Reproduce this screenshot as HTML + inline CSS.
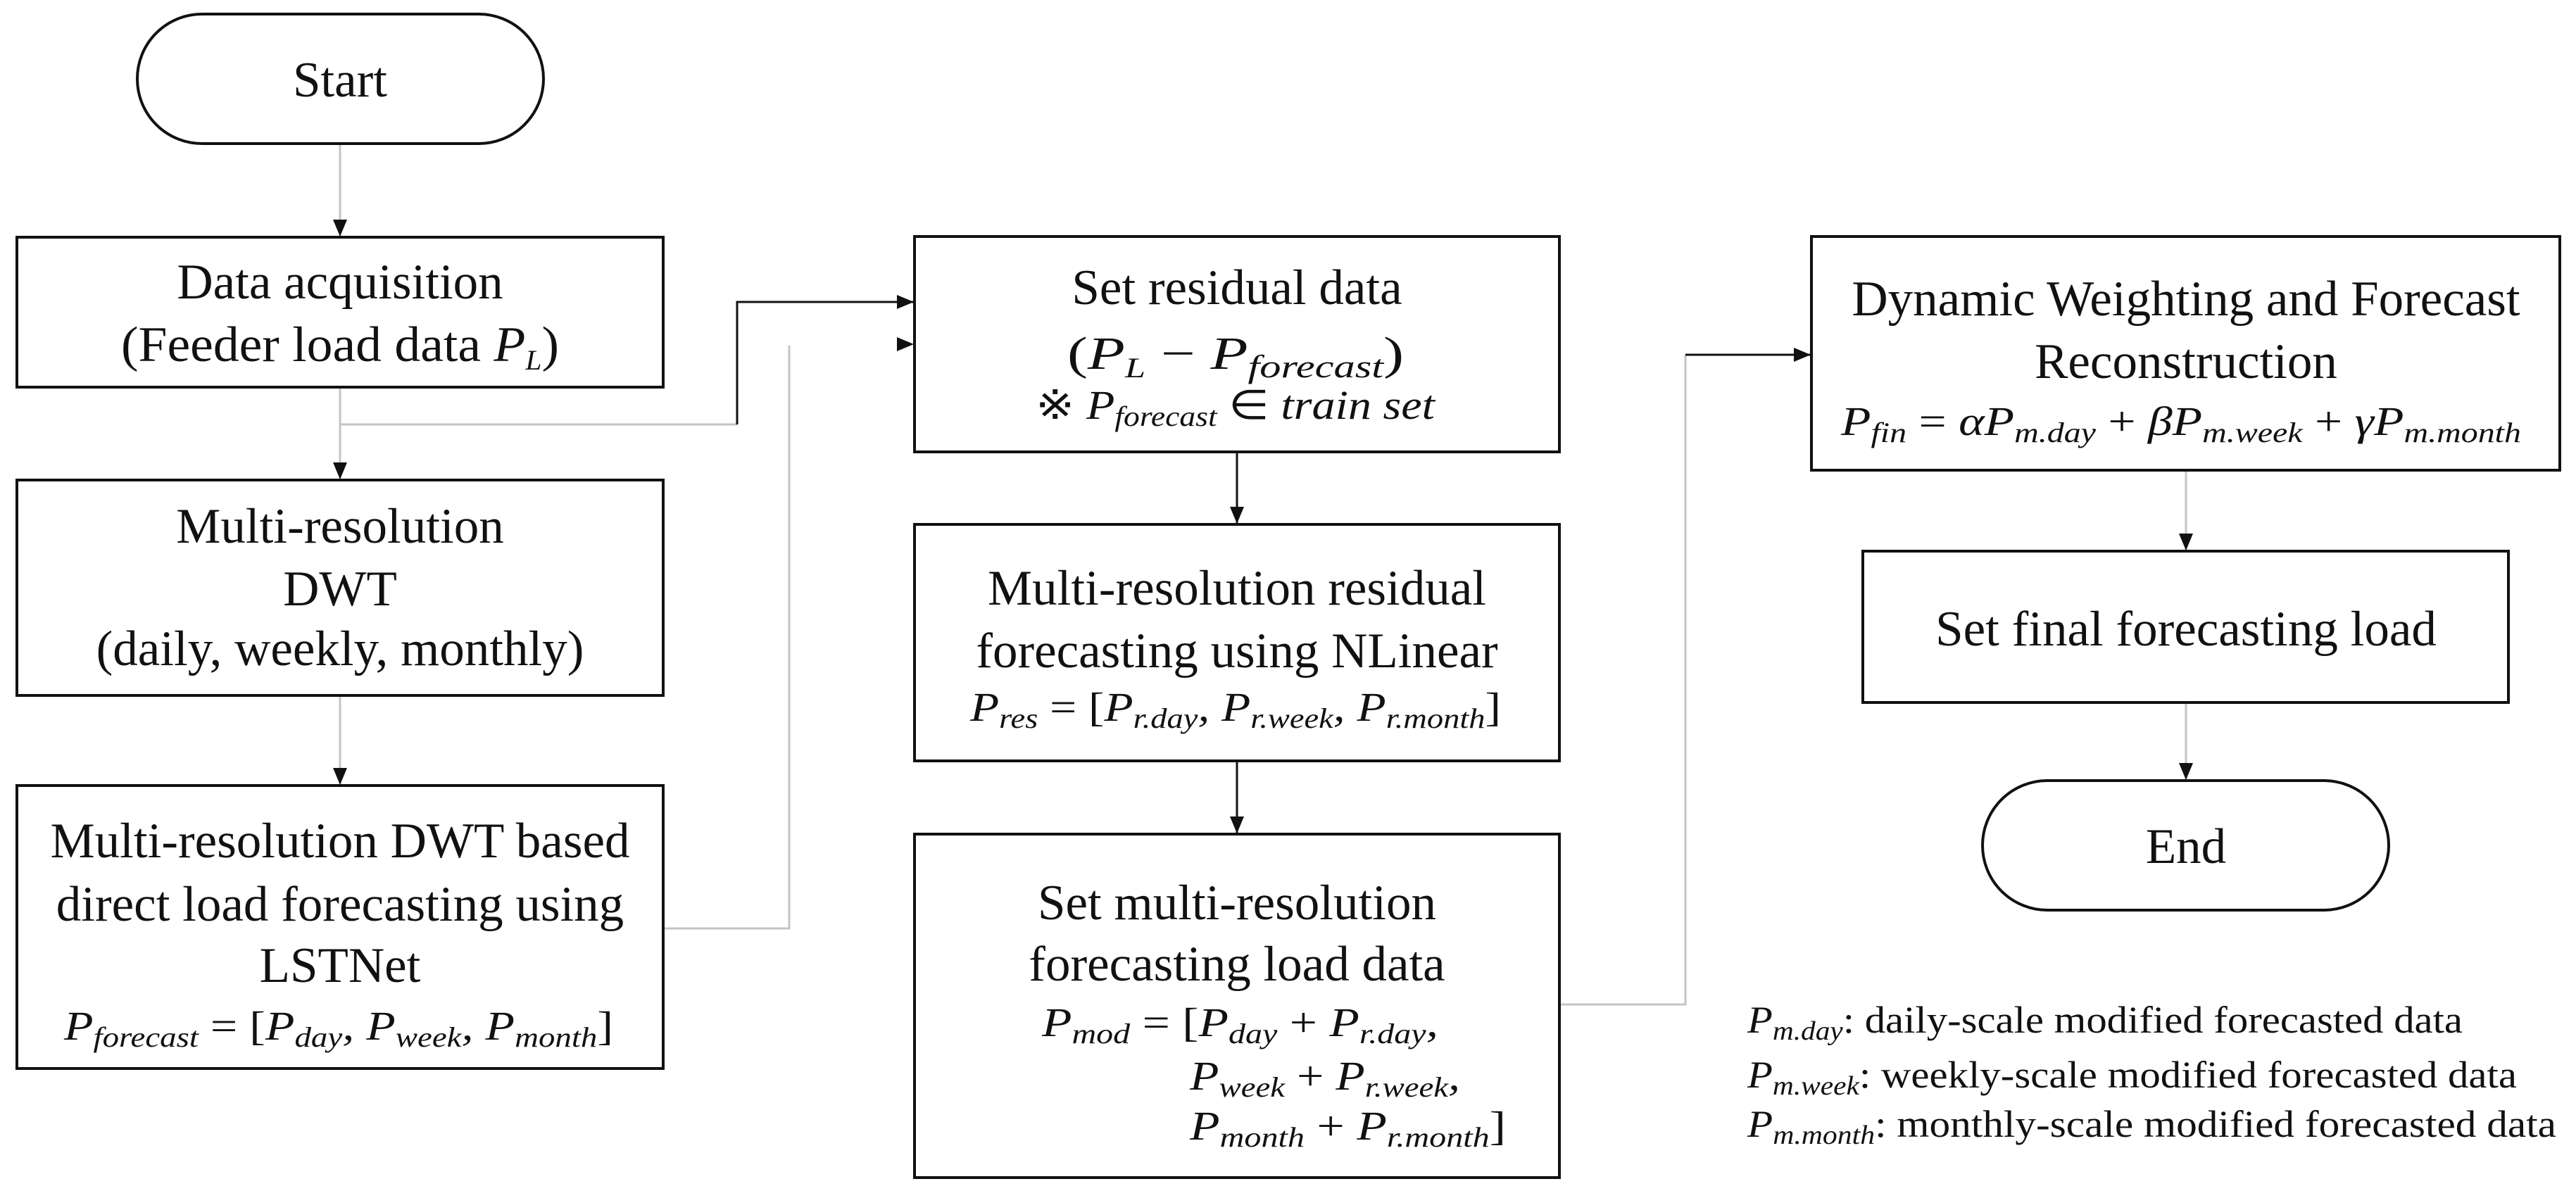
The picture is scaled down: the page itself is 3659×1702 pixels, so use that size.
<!DOCTYPE html>
<html><head><meta charset="utf-8"><style>
html,body{margin:0;padding:0;background:#fff}
svg{display:block}
text{font-family:"Liberation Serif",serif;fill:#111}
.t{font-size:71px;text-anchor:middle}
.m{font-size:58px;font-style:italic}
.s{font-size:40px}
.r{font-style:normal}
</style></head><body>
<svg width="3659" height="1702" viewBox="0 0 3659 1702" xmlns="http://www.w3.org/2000/svg">
<defs>
<marker id="a" markerWidth="24" markerHeight="20" refX="23" refY="10" orient="auto" markerUnits="userSpaceOnUse" viewBox="0 0 24 20"><path d="M0,0 L24,10 L0,20 z" fill="#111"/></marker>
</defs>
<g fill="none" stroke-width="3">
<g stroke="#c4c4c4">
<line x1="483" y1="204" x2="483" y2="335" marker-end="url(#a)"/>
<line x1="483" y1="550" x2="483" y2="680" marker-end="url(#a)"/>
<line x1="483" y1="603" x2="1047" y2="603"/>
<line x1="483" y1="988" x2="483" y2="1114" marker-end="url(#a)"/>
<polyline points="942,1319 1121,1319 1121,491"/>
<polyline points="2215,1427 2394,1427 2394,504"/>
<line x1="3105" y1="668" x2="3105" y2="781" marker-end="url(#a)"/>
<line x1="3105" y1="998" x2="3105" y2="1107" marker-end="url(#a)"/>
</g>
<g stroke="#111">
<polyline points="1047,603 1047,429 1297,429" marker-end="url(#a)"/>
<line x1="1270" y1="489" x2="1297" y2="489" marker-end="url(#a)" stroke="#fff" stroke-width="1"/>
<line x1="1757" y1="642" x2="1757" y2="743" marker-end="url(#a)"/>
<line x1="1757" y1="1081" x2="1757" y2="1183" marker-end="url(#a)"/>
<line x1="2394" y1="504" x2="2571" y2="504" marker-end="url(#a)"/>
</g>
<g stroke="#111" stroke-width="4">
<rect x="195" y="20" width="577" height="184" rx="92"/>
<rect x="24" y="337" width="918" height="213"/>
<rect x="24" y="682" width="918" height="306"/>
<rect x="24" y="1116" width="918" height="402"/>
<rect x="1299" y="336" width="916" height="306"/>
<rect x="1299" y="745" width="916" height="336"/>
<rect x="1299" y="1185" width="916" height="488"/>
<rect x="2573" y="336" width="1063" height="332"/>
<rect x="2646" y="783" width="917" height="215"/>
<rect x="2816" y="1109" width="577" height="184" rx="92"/>
</g>
</g>
<text class="t" x="483" y="137">Start</text>
<text class="t" x="483" y="424">Data acquisition</text>
<text class="t" x="172" y="513" textLength="622" lengthAdjust="spacingAndGlyphs" style="text-anchor:start">(Feeder load data <tspan font-style="italic">P</tspan><tspan class="s" font-style="italic" dy="12">L</tspan><tspan dy="-12">)</tspan></text>
<text class="t" x="483" y="771">Multi-resolution</text>
<text class="t" x="483" y="860">DWT</text>
<text class="t" x="483" y="945">(daily, weekly, monthly)</text>
<text class="t" x="483" y="1218">Multi-resolution DWT based</text>
<text class="t" x="483" y="1308">direct load forecasting using</text>
<text class="t" x="483" y="1395">LSTNet</text>
<text class="m" x="91" y="1477" textLength="780" lengthAdjust="spacingAndGlyphs">P<tspan class="s" dy="10">forecast</tspan><tspan class="r" dy="-10"> = [</tspan>P<tspan class="s" dy="10">day</tspan><tspan dy="-10">, </tspan>P<tspan class="s" dy="10">week</tspan><tspan dy="-10">, </tspan>P<tspan class="s" dy="10">month</tspan><tspan class="r" dy="-10">]</tspan></text>

<text class="t" x="1757" y="432">Set residual data</text>
<text class="m" x="1516" y="524" textLength="478" lengthAdjust="spacingAndGlyphs" style="font-size:66px"><tspan class="r">(</tspan>P<tspan class="s" dy="12">L</tspan><tspan class="r" dy="-12"> − </tspan>P<tspan class="s" dy="12" style="font-size:46px">forecast</tspan><tspan class="r" dy="-12">)</tspan></text>
<text class="m" x="1471" y="595" textLength="567" lengthAdjust="spacingAndGlyphs"><tspan class="r">※ </tspan>P<tspan class="s" dy="10">forecast</tspan><tspan class="r" dy="-10"> ∈ </tspan>train set</text>

<text class="t" x="1757" y="859">Multi-resolution residual</text>
<text class="t" x="1757" y="948">forecasting using NLinear</text>
<text class="m" x="1378" y="1024" textLength="754" lengthAdjust="spacingAndGlyphs">P<tspan class="s" dy="10">res</tspan><tspan class="r" dy="-10"> = [</tspan>P<tspan class="s" dy="10">r.day</tspan><tspan dy="-10">, </tspan>P<tspan class="s" dy="10">r.week</tspan><tspan dy="-10">, </tspan>P<tspan class="s" dy="10">r.month</tspan><tspan class="r" dy="-10">]</tspan></text>

<text class="t" x="1757" y="1306">Set multi-resolution</text>
<text class="t" x="1757" y="1393">forecasting load data</text>
<text class="m" x="1480" y="1472" textLength="563" lengthAdjust="spacingAndGlyphs">P<tspan class="s" dy="10">mod</tspan><tspan class="r" dy="-10"> = [</tspan>P<tspan class="s" dy="10">day</tspan><tspan class="r" dy="-10"> + </tspan>P<tspan class="s" dy="10">r.day</tspan><tspan dy="-10">,</tspan></text>
<text class="m" x="1690" y="1548" textLength="384" lengthAdjust="spacingAndGlyphs">P<tspan class="s" dy="10">week</tspan><tspan class="r" dy="-10"> + </tspan>P<tspan class="s" dy="10">r.week</tspan><tspan dy="-10">,</tspan></text>
<text class="m" x="1690" y="1619" textLength="449" lengthAdjust="spacingAndGlyphs">P<tspan class="s" dy="10">month</tspan><tspan class="r" dy="-10"> + </tspan>P<tspan class="s" dy="10">r.month</tspan><tspan class="r" dy="-10">]</tspan></text>

<text class="t" x="3105" y="448">Dynamic Weighting and Forecast</text>
<text class="t" x="3105" y="537">Reconstruction</text>
<text class="m" x="2615" y="618" textLength="966" lengthAdjust="spacingAndGlyphs">P<tspan class="s" dy="10">fin</tspan><tspan class="r" dy="-10"> = </tspan>αP<tspan class="s" dy="10">m.day</tspan><tspan class="r" dy="-10"> + </tspan>βP<tspan class="s" dy="10">m.week</tspan><tspan class="r" dy="-10"> + </tspan>γP<tspan class="s" dy="10">m.month</tspan></text>

<text class="t" x="3105" y="917">Set final forecasting load</text>
<text class="t" x="3105" y="1226">End</text>

<text class="m" x="2482" y="1467" textLength="1016" lengthAdjust="spacingAndGlyphs" style="font-size:54px">P<tspan class="s" dy="10" style="font-size:38px">m.day</tspan><tspan class="r" dy="-10">: daily-scale modified forecasted data</tspan></text>
<text class="m" x="2482" y="1545" textLength="1093" lengthAdjust="spacingAndGlyphs" style="font-size:54px">P<tspan class="s" dy="10" style="font-size:38px">m.week</tspan><tspan class="r" dy="-10">: weekly-scale modified forecasted data</tspan></text>
<text class="m" x="2482" y="1615" textLength="1149" lengthAdjust="spacingAndGlyphs" style="font-size:54px">P<tspan class="s" dy="10" style="font-size:38px">m.month</tspan><tspan class="r" dy="-10">: monthly-scale modified forecasted data</tspan></text>
</svg>
</body></html>
